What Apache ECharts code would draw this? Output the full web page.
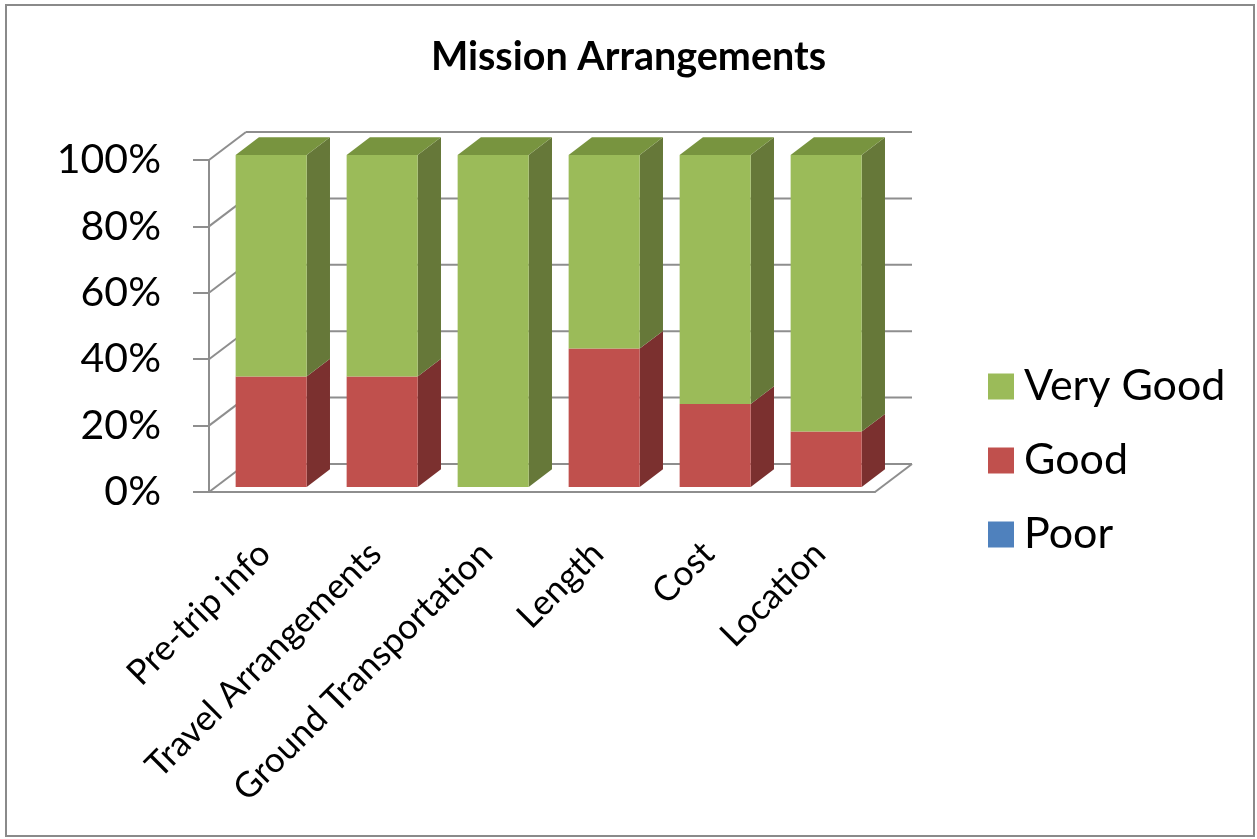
<!DOCTYPE html>
<html><head><meta charset="utf-8">
<script src="https://cdn.jsdelivr.net/npm/echarts@6/dist/echarts.min.js"></script>
<style>html,body{margin:0;padding:0;background:#fff}#c{width:1257px;height:839px}</style>
</head><body><div id="c"></div>
<script>
// ---- data ----
const categories = ['Pre-trip info', 'Travel Arrangements', 'Ground Transportation', 'Length', 'Cost', 'Location'];
const poor = [0, 0, 0, 0, 0, 0];
const good = [33.3, 33.3, 0, 41.7, 25, 16.7];
const veryGood = [66.7, 66.7, 100, 58.3, 75, 83.3];
const yTicks = [0, 20, 40, 60, 80, 100];
const seriesNames = ['Poor', 'Good', 'Very Good'];
const legendOrder = ['Very Good', 'Good', 'Poor'];

// ---- style ----
const FONT = 'Lato';
const DEPTH = { dx: 37, dy: -28 };
const FRONT = 0.18, BACK = 0.81, BAR_RATIO = 0.64;
const GRID_COLOR = '#8e8e8e';
const palette = {
  'Poor': { front: '#4F81BD', side: '#2E4B70', top: '#3C6494' },
  'Good': { front: '#C0504D', side: '#7B302F', top: '#9A3D3B' },
  'Very Good': { front: '#9BBB59', side: '#667839', top: '#78943F' }
};

// build stacked segments
const valuesBySeries = [poor, good, veryGood];
const totals = categories.map((_, i) => valuesBySeries.reduce((s, arr) => s + arr[i], 0));
const base = categories.map(() => 0);
const segData = valuesBySeries.map(arr => arr.map((v, i) => {
  const lo = base[i], hi = base[i] + v;
  base[i] = hi;
  const isTop = (v > 0 && Math.abs(hi - totals[i]) < 1e-6) ? 1 : 0;
  return [i, lo, hi, isTop];
}));

function barRender(col) {
  return function (params, api) {
    const i = api.value(0), lo = api.value(1), hi = api.value(2), isTop = api.value(3);
    if (hi - lo <= 0) return null;
    const bw = api.size([1, 0])[0] * BAR_RATIO;
    const p0 = api.coord([i, lo]), p1 = api.coord([i, hi]);
    const fx = DEPTH.dx * FRONT, fy = DEPTH.dy * FRONT;
    const ddx = DEPTH.dx * (BACK - FRONT), ddy = DEPTH.dy * (BACK - FRONT);
    const x0 = p0[0] - bw / 2 + fx, x1 = p0[0] + bw / 2 + fx;
    const yb = p0[1] + fy, yt = p1[1] + fy;
    const children = [
      { type: 'polygon', shape: { points: [[x1, yb], [x1 + ddx, yb + ddy], [x1 + ddx, yt + ddy], [x1, yt]] }, style: { fill: col.side } },
      { type: 'rect', shape: { x: x0, y: yt, width: x1 - x0, height: yb - yt }, style: { fill: col.front } }
    ];
    if (isTop) {
      children.push({ type: 'polygon', shape: { points: [[x0, yt], [x1, yt], [x1 + ddx, yt + ddy], [x0 + ddx, yt + ddy]] }, style: { fill: col.top } });
    }
    return { type: 'group', children: children };
  };
}

function frameRender(params, api) {
  const cs = params.coordSys;
  const v = api.value(1);
  const y = api.coord([0, v])[1];
  const ls = { stroke: GRID_COLOR, lineWidth: 2 };
  const children = [
    { type: 'line', shape: { x1: cs.x + DEPTH.dx, y1: y + DEPTH.dy, x2: cs.x + cs.width + DEPTH.dx, y2: y + DEPTH.dy }, style: ls },
    { type: 'line', shape: { x1: cs.x, y1: y, x2: cs.x + DEPTH.dx, y2: y + DEPTH.dy }, style: ls }
  ];
  if (v === 0) {
    children.push({ type: 'line', shape: { x1: cs.x + cs.width, y1: y, x2: cs.x + cs.width + DEPTH.dx, y2: y + DEPTH.dy }, style: ls });
  }
  return { type: 'group', children: children };
}

const series = [{
  name: 'frame', type: 'custom', silent: true, z: 1,
  data: yTicks.map(v => [0, v]),
  encode: { x: 0, y: 1 },
  renderItem: frameRender
}];
seriesNames.forEach((name, k) => {
  series.push({
    name: name, type: 'custom', z: 2 + k,
    itemStyle: { color: palette[name].front },
    data: segData[k],
    encode: { x: 0, y: [1, 2] },
    renderItem: barRender(palette[name])
  });
});

const chart = echarts.init(document.getElementById('c'), null, { renderer: 'canvas' });
chart.setOption({
  animation: false,
  backgroundColor: '#fff',
  title: {
    text: 'Mission Arrangements', left: 'center', top: 32,
    textStyle: { fontFamily: FONT, fontWeight: 'bold', fontSize: 39.5, color: '#000' }
  },
  legend: {
    data: legendOrder, orient: 'vertical', left: 983, top: 360,
    itemWidth: 26, itemHeight: 26, itemGap: 31, icon: 'rect',
    textStyle: { fontFamily: FONT, fontSize: 43, color: '#000', padding: [0, 0, 0, 5] }
  },
  grid: { left: 209, top: 160, width: 666, height: 332, containLabel: false },
  xAxis: {
    type: 'category', data: categories,
    axisLine: { show: true, lineStyle: { color: GRID_COLOR, width: 2 } },
    axisTick: { show: false },
    axisLabel: { interval: 0, rotate: 45, margin: 56, fontFamily: FONT, fontSize: 35, color: '#000' }
  },
  yAxis: {
    type: 'value', min: 0, max: 100, interval: 20,
    axisLine: { show: true, lineStyle: { color: GRID_COLOR, width: 2 } },
    axisTick: { show: true, length: 16, lineStyle: { color: GRID_COLOR, width: 2 } },
    splitLine: { show: false },
    axisLabel: { formatter: '{value}%', margin: 48, fontFamily: FONT, fontSize: 41, color: '#000' }
  },
  graphic: [{
    type: 'rect', silent: true, z: 0,
    shape: { x: 6, y: 5, width: 1248, height: 831 },
    style: { fill: null, stroke: '#8a8a8a', lineWidth: 2 }
  }],
  series: series
});
</script>
</body></html>
